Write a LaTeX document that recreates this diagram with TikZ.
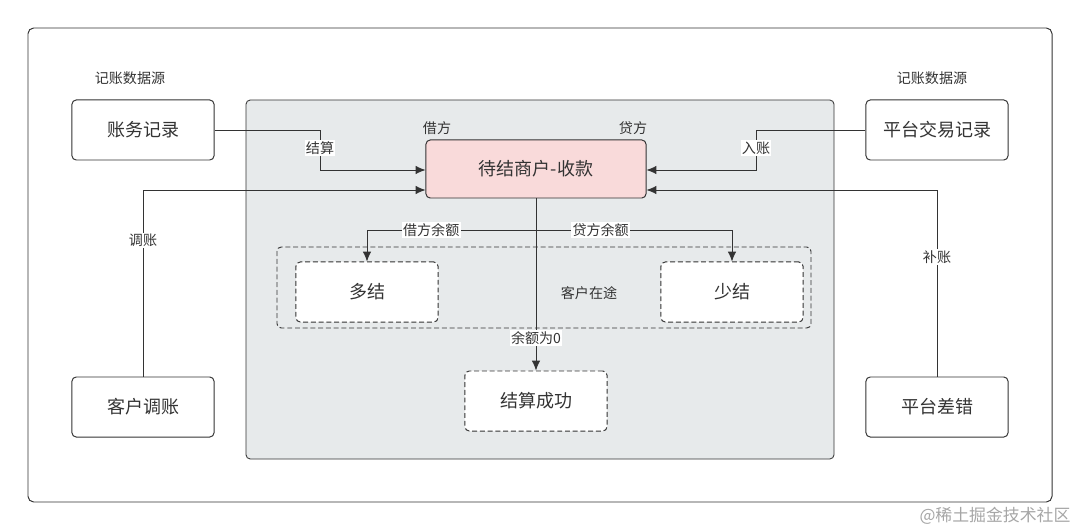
\documentclass[tikz,border=0pt]{standalone}
\usepackage{fontspec}
\setmainfont{Noto Sans CJK SC}
\usepackage{xcolor}
\usetikzlibrary{arrows.meta, positioning}

\definecolor{inkgray}{HTML}{333333}
\definecolor{panelgray}{HTML}{E7EAEB}
\definecolor{hotpink}{HTML}{F9DADA}

\begin{document}
\begin{tikzpicture}[x=0.025cm, y=-0.025cm, font=\fontsize{12.8pt}{14pt}\selectfont, inkgray,
    src/.style={draw=inkgray, line width=0.7pt, rounded corners=3pt, fill=white, minimum width=3.55cm, minimum height=1.5cm},
    state/.style={draw=inkgray, dash pattern=on 3.5pt off 2pt, line width=0.7pt, rounded corners=3pt, fill=white, minimum width=3.55cm, minimum height=1.5cm},
    small/.style={font=\fontsize{10pt}{12pt}\selectfont},
    tag/.style={small, fill=white, inner sep=1pt},
    flow/.style={draw=inkgray, line width=0.6pt, -{Latex[length=7pt, width=6pt]}}]
\useasboundingbox (0,0) rectangle (1080,531);
% frame and panel
\draw[inkgray, line width=0.7pt, rounded corners=4pt] (28,28) rectangle (1052,502);
\draw[inkgray, fill=panelgray, line width=0.6pt, rounded corners=3pt] (246,100) rectangle (834,459);
\draw[inkgray, dash pattern=on 3.5pt off 2pt, line width=0.7pt, rounded corners=3pt] (277,247) rectangle (811,328);
% sources
\node[small] (srcl) at (130,78) {记账数据源};
\node[small] (srcr) at (932,78) {记账数据源};
\node[src] (ledger) at (143,130) {账务记录};
\node[src] (trade) at (937,130) {平台交易记录};
\node[src] (adjust) at (143,407) {客户调账};
\node[src] (error) at (937,407) {平台差错};
% center
\node[draw=inkgray, fill=hotpink, line width=0.7pt, rounded corners=3pt, minimum width=5.5cm, minimum height=1.45cm] (pending) at (536,169) {待结商户-收款};
\node[small, anchor=south] (debit) at (437,140) {借方};
\node[small, anchor=south] (credit) at (633,140) {贷方};
% results
\node[state] (over) at (367,292) {多结};
\node[state] (under) at (732,292) {少结};
\node[state] (done) at (536,401) {结算成功};
\node[small] (transit) at (589,293) {客户在途};
% inputs
\draw[flow] (ledger.east) -- (320,130) -- node[tag, pos=0.45] {结算} (320,170) -- (pending.west |- 0,170);
\draw[flow] (adjust.north) -- node[tag, pos=0.73] {调账} (143,190) -- (pending.west |- 0,190);
\draw[flow] (trade.west) -- (756,130) -- node[tag, pos=0.45] {入账} (756,170) -- (pending.east |- 0,170);
\draw[flow] (error.north) -- node[tag, pos=0.64] {补账} (937,190) -- (pending.east |- 0,190);
% outputs
\coordinate (split) at (536,230);
\draw[flow] (pending.south) -- node[tag, pos=0.81] {余额为0} (done.north);
\draw[flow] (split) -- node[tag, pos=0.62] {借方余额} (367,230) -- (over.north);
\draw[flow] (split) -- node[tag, pos=0.33] {贷方余额} (732,230) -- (under.north);
% watermark
\node[small, gray!70, font=\fontsize{12pt}{14pt}\selectfont] (mark) at (995,516) {@稀土掘金技术社区};
\end{tikzpicture}
\end{document}
